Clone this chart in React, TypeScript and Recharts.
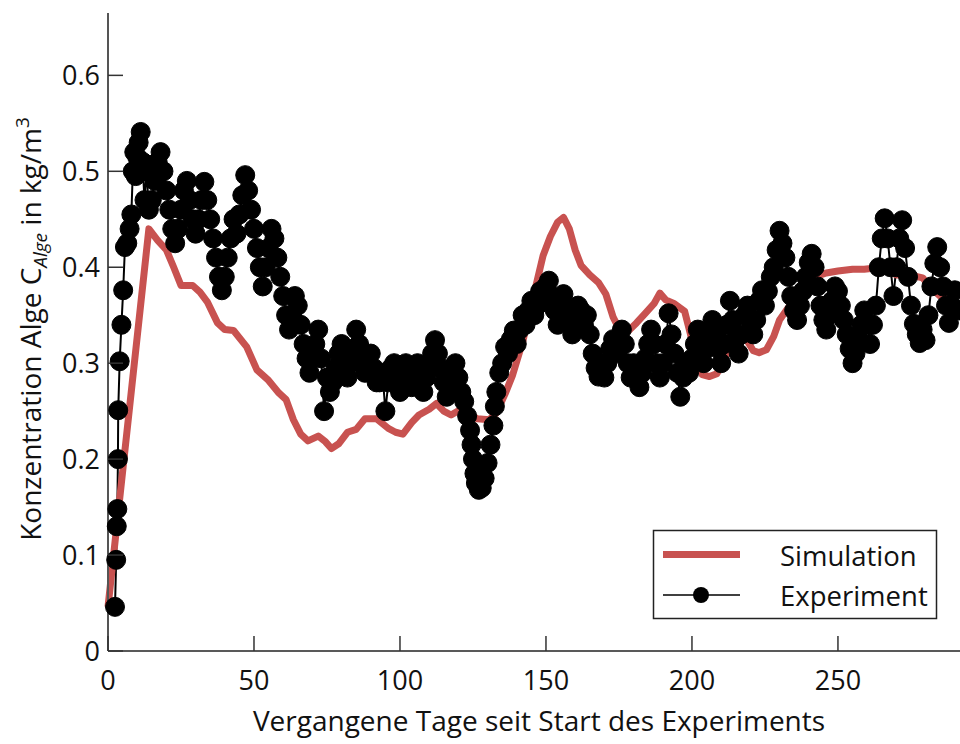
import { LineChart, Line, XAxis, YAxis, Customized } from "recharts";

// Simulation (red curve)
const simDays = [
  0, 14, 17, 20, 22.5, 25, 29, 31.5, 34, 37.5, 40, 43, 47.5, 51, 55, 58.5, 61, 63.5, 66, 68.5,
  72, 74.5, 76.5, 79, 82, 85, 88, 92, 96, 98.5, 101, 104, 106.5, 110, 112.5, 115, 117.5, 121.5,
  124, 126.5, 130.5, 133, 136, 138.5, 142, 145.5, 149, 151.5, 154, 156, 158, 160, 162, 165, 168,
  170.5, 173, 175.5, 178, 181, 184, 187, 189, 191, 194, 197.5, 199.5, 201.5, 203.5, 206, 208.5,
  211, 213, 215, 217, 219, 221, 223, 225.5, 228, 230, 233, 236, 239, 242, 246, 250, 255, 259,
  262, 264, 267, 270, 273, 276, 279, 282, 285, 288, 291.5,
];
const simValues = [
  0.046, 0.44, 0.428, 0.418, 0.4, 0.381, 0.381, 0.374, 0.364, 0.342, 0.335, 0.334, 0.317, 0.293,
  0.282, 0.269, 0.262, 0.241, 0.226, 0.219, 0.224, 0.218, 0.211, 0.216, 0.228, 0.231, 0.242, 0.242,
  0.232, 0.228, 0.226, 0.238, 0.246, 0.252, 0.258, 0.25, 0.246, 0.253, 0.247, 0.242, 0.241, 0.248,
  0.268, 0.287, 0.322, 0.367, 0.412, 0.432, 0.447, 0.452, 0.44, 0.418, 0.402, 0.392, 0.384, 0.372,
  0.348, 0.333, 0.333, 0.342, 0.352, 0.362, 0.373, 0.366, 0.362, 0.354, 0.33, 0.303, 0.288, 0.286,
  0.289, 0.303, 0.318, 0.326, 0.327, 0.323, 0.313, 0.311, 0.314, 0.328, 0.345, 0.358, 0.37, 0.383,
  0.39, 0.394, 0.396, 0.398, 0.398, 0.399, 0.397, 0.397, 0.392, 0.392, 0.391, 0.389, 0.378, 0.37,
  0.366, 0.357,
];

// Experiment (black dots)
const expDays = [
  2.4, 2.8, 3.0, 3.2, 3.4, 3.5, 4.0, 4.6, 5.2, 5.8, 6.6, 7.4, 8.0, 8.5, 9.0, 9.5, 10.0, 10.5, 11.2,
  11.8, 12.5, 13.2, 14.0,
  15, 16, 17, 18, 19, 20, 21, 22, 23, 24, 25, 26, 27, 28, 29, 30, 31, 32, 33, 34,
  35, 36, 37, 38, 39, 40, 41, 42, 43, 44, 45, 46, 47, 48, 49, 50, 51, 52, 53, 54,
  55, 56, 57, 58, 59, 60, 61, 62, 63, 64, 65, 66, 67, 68, 69, 70, 71, 72, 73, 74,
  75, 76, 77, 78, 79, 80, 81, 82, 83, 84, 85, 86, 87, 88, 89, 90, 91, 92, 93, 94,
  95, 96, 97, 98, 99, 100, 101, 102, 103, 104, 105, 106, 107, 108, 109, 110, 111, 112, 113, 114,
  115, 116, 117, 118, 119, 120, 121, 122, 123, 124, 124.5, 125, 125.5, 126, 127, 128, 129, 130,
  131, 132, 132.5, 133, 134, 135, 136, 137, 138, 139, 140, 141, 142, 143, 144, 145, 146, 147,
  148, 149, 150, 151, 152, 153, 154, 155, 156, 157, 158, 159, 160, 161, 162, 163, 164, 165, 166,
  167, 168, 169, 170, 171, 172, 173, 174, 175, 176, 177, 178, 179, 180, 181, 182, 183, 184, 185,
  186, 187, 188, 189, 190, 191, 192, 193, 194, 195, 196, 197, 198, 199, 200, 201, 202, 203, 204,
  205, 206, 207, 208, 209, 210, 211, 212, 213, 214, 215, 216, 217, 218, 219, 220, 221, 222, 223,
  224, 225, 226, 227, 228, 229, 230, 231, 232, 233, 234, 235, 236, 237, 238, 239, 240, 241, 242,
  243, 244, 245, 246, 247, 248, 249, 250, 251, 252, 253, 254, 255, 256, 257, 258, 259, 260, 261,
  262, 263, 264, 265, 266, 267, 268, 269, 270, 271, 272, 273, 274, 275, 276, 277, 278, 279, 280,
  281, 282, 283, 284, 285, 286, 287, 288, 289, 290, 291.5,
];
const expValues = [
  // 2.4 - 14
  0.046, 0.095, 0.13, 0.148, 0.2, 0.251, 0.302, 0.34, 0.376, 0.421, 0.425, 0.44, 0.455, 0.5, 0.52,
  0.495, 0.515, 0.53, 0.541, 0.51, 0.47, 0.5, 0.46,
  // 15 - 34
  0.47, 0.49, 0.51, 0.52, 0.5, 0.48, 0.46, 0.44, 0.425, 0.44, 0.46, 0.48, 0.49, 0.47, 0.45, 0.435,
  0.45, 0.47, 0.489, 0.47,
  // 35 - 54
  0.45, 0.43, 0.41, 0.39, 0.376, 0.39, 0.41, 0.43, 0.45, 0.435, 0.455, 0.475, 0.496, 0.48, 0.46,
  0.44, 0.42, 0.4, 0.38, 0.4,
  // 55 - 74
  0.42, 0.44, 0.43, 0.41, 0.39, 0.37, 0.35, 0.335, 0.35, 0.37, 0.36, 0.34, 0.32, 0.305, 0.29,
  0.305, 0.32, 0.335, 0.305, 0.25,
  // 75 - 94
  0.285, 0.27, 0.28, 0.295, 0.31, 0.32, 0.3, 0.285, 0.3, 0.315, 0.335, 0.32, 0.3, 0.29, 0.305,
  0.31, 0.295, 0.28, 0.28, 0.29,
  // 95 - 114
  0.25, 0.28, 0.295, 0.3, 0.285, 0.27, 0.285, 0.3, 0.29, 0.275, 0.285, 0.3, 0.285, 0.27, 0.285,
  0.3, 0.31, 0.324, 0.31, 0.295,
  // 115 - 130
  0.28, 0.265, 0.28, 0.295, 0.3, 0.285, 0.27, 0.26, 0.245, 0.23, 0.215, 0.2, 0.185, 0.175, 0.168,
  0.17, 0.18, 0.196,
  // 131 - 147
  0.215, 0.235, 0.255, 0.27, 0.29, 0.3, 0.317, 0.31, 0.325, 0.334, 0.32, 0.335, 0.35, 0.34, 0.355,
  0.365, 0.35, 0.36,
  // 148 - 166
  0.375, 0.365, 0.38, 0.386, 0.37, 0.355, 0.34, 0.355, 0.372, 0.36, 0.345, 0.33, 0.345, 0.36,
  0.355, 0.34, 0.35, 0.33, 0.31,
  // 167 - 185
  0.295, 0.286, 0.3, 0.285, 0.3, 0.315, 0.325, 0.31, 0.325, 0.335, 0.32, 0.3, 0.285, 0.3, 0.285,
  0.275, 0.29, 0.305, 0.32,
  // 186 - 204
  0.335, 0.32, 0.3, 0.285, 0.3, 0.32, 0.352, 0.33, 0.31, 0.29, 0.265, 0.285, 0.3, 0.29, 0.305,
  0.32, 0.335, 0.315, 0.3,
  // 205 - 223
  0.315, 0.33, 0.345, 0.33, 0.315, 0.3, 0.32, 0.34, 0.365, 0.345, 0.325, 0.31, 0.33, 0.35, 0.36,
  0.345, 0.33, 0.345, 0.365,
  // 224 - 242
  0.376, 0.36, 0.375, 0.39, 0.4, 0.418, 0.438, 0.425, 0.41, 0.39, 0.37, 0.355, 0.345, 0.36, 0.375,
  0.39, 0.405, 0.414, 0.4,
  // 243 - 261
  0.38, 0.36, 0.345, 0.335, 0.35, 0.365, 0.38, 0.375, 0.36, 0.345, 0.33, 0.315, 0.3, 0.31, 0.325,
  0.34, 0.355, 0.34, 0.32,
  // 262 - 280
  0.34, 0.36, 0.4, 0.43, 0.451, 0.43, 0.4, 0.37, 0.4, 0.43, 0.449, 0.42, 0.39, 0.36, 0.341, 0.33,
  0.321, 0.335, 0.324,
  // 281 - 291.5
  0.35, 0.38, 0.404, 0.421, 0.4, 0.38, 0.36, 0.342, 0.36, 0.376, 0.355,
];

const xTicks = [0, 50, 100, 150, 200, 250];
const yTicks = [0, 0.1, 0.2, 0.3, 0.4, 0.5, 0.6];

const simData = simDays.map((d, i) => ({ x: d, y: simValues[i] }));
const expData = expDays.map((d, i) => ({ x: d, y: expValues[i] }));

const FONT = "'Open Sans', 'DejaVu Sans', sans-serif";
const RED = "#c85250";

const XTick = (props: any) => {
  const { x, y, payload } = props;
  return (
    <g>
      <line x1={x} x2={x} y1={y} y2={y - 15} stroke="#333" strokeWidth={1.5} />
      <text x={x} y={y + 39} textAnchor="middle" fontFamily={FONT} fontSize={27} fill="#111">
        {payload.value}
      </text>
    </g>
  );
};

const YTick = (props: any) => {
  const { x, y, payload } = props;
  return (
    <g>
      <line x1={x} x2={x + 15} y1={y} y2={y} stroke="#333" strokeWidth={1.5} />
      <text x={x - 8} y={y + 10} textAnchor="end" fontFamily={FONT} fontSize={27} fill="#111">
        {String(payload.value)}
      </text>
    </g>
  );
};

const Overlay = () => (
  <g fontFamily={FONT} fill="#111">
    <text x={539} y={731} textAnchor="middle" fontSize={28}>
      Vergangene Tage seit Start des Experiments
    </text>
    <text x={41} y={329} textAnchor="middle" fontSize={28} transform="rotate(-90, 41, 329)">
      <tspan>Konzentration Alge C</tspan>
      <tspan fontSize={19} fontStyle="italic" dy={6}>Alge</tspan>
      <tspan dy={-6}> in kg/m</tspan>
      <tspan fontSize={19} dy={-12}>3</tspan>
    </text>
    <rect x={653.5} y={530.5} width={283} height={88} fill="#fff" stroke="#222" strokeWidth={1.5} />
    <line x1={663} x2={740} y1={554.5} y2={554.5} stroke={RED} strokeWidth={7} />
    <text x={780} y={566} fontSize={27.5}>Simulation</text>
    <line x1={663} x2={740} y1={595} y2={595} stroke="#000" strokeWidth={1.5} />
    <circle cx={701} cy={595} r={8} fill="#000" />
    <text x={780} y={606} fontSize={27.5}>Experiment</text>
  </g>
);

export default function App() {
  return (
    <div style={{ position: "absolute", left: 0, top: 0, background: "#fff" }}>
      <LineChart width={960} height={744} margin={{ top: 13, right: 0, bottom: 0, left: 8 }}>
        <XAxis
          type="number"
          dataKey="x"
          domain={[0, 291.8]}
          ticks={xTicks}
          height={93}
          tickSize={0}
          tickMargin={0}
          tickLine={false}
          axisLine={{ stroke: "#222", strokeWidth: 1.5 }}
          tick={<XTick />}
        />
        <YAxis
          type="number"
          dataKey="y"
          domain={[0, 0.665]}
          ticks={yTicks}
          width={100}
          tickSize={0}
          tickMargin={0}
          tickLine={false}
          axisLine={{ stroke: "#555", strokeWidth: 2 }}
          tick={<YTick />}
        />
        <Line
          data={expData}
          dataKey="y"
          type="linear"
          stroke="#000"
          strokeWidth={2}
          dot={{ r: 9.5, fill: "#000", stroke: "#000", strokeWidth: 1 }}
          activeDot={false}
          isAnimationActive={false}
        />
        <Line
          data={simData}
          dataKey="y"
          type="linear"
          stroke={RED}
          strokeWidth={7}
          strokeLinejoin="round"
          dot={false}
          activeDot={false}
          isAnimationActive={false}
        />
        <Customized component={Overlay} />
      </LineChart>
    </div>
  );
}
